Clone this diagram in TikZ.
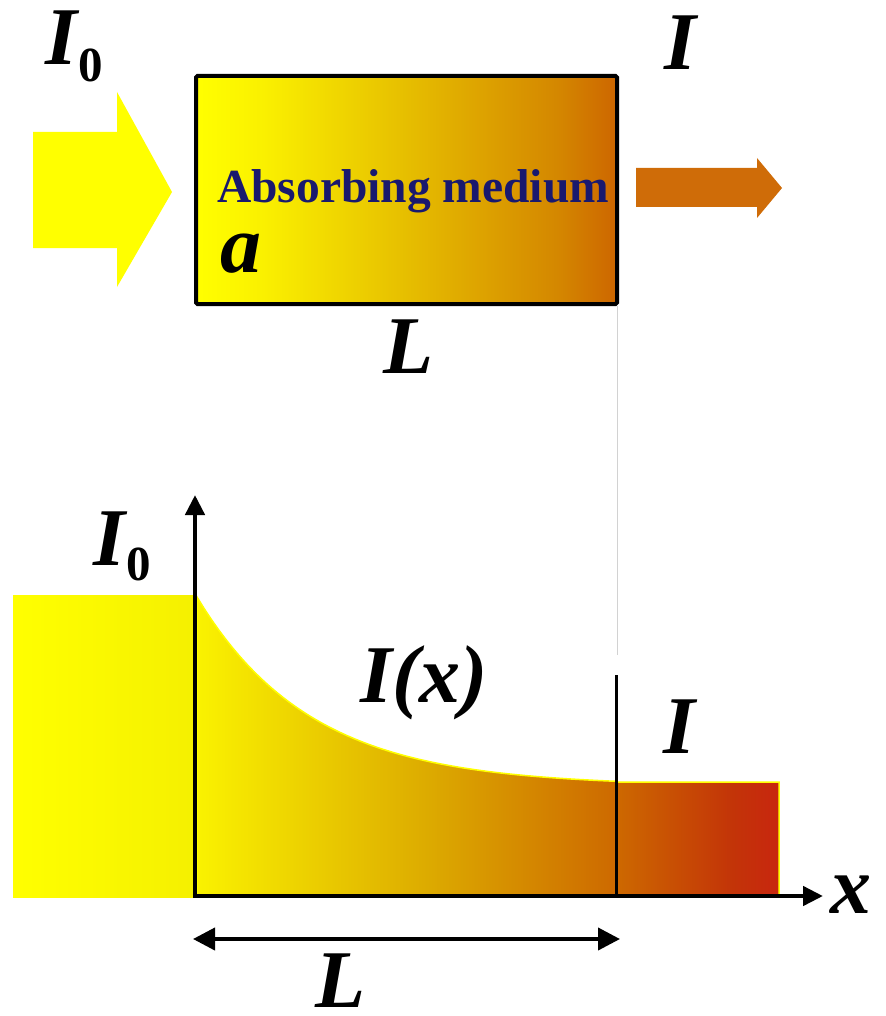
\documentclass[tikz,border=0pt]{standalone}
\usepackage{fontspec}
\setmainfont{Liberation Serif}
\usetikzlibrary{arrows.meta}
\definecolor{cyel}{RGB}{255,255,0}
\definecolor{cyel2}{RGB}{245,240,0}
\definecolor{bmid1}{RGB}{250,240,0}
\definecolor{bmid2}{RGB}{230,190,0}
\definecolor{bmid3}{RGB}{212,135,0}
\definecolor{borg}{RGB}{205,102,0}
\definecolor{gy}{RGB}{250,242,0}
\definecolor{gm}{RGB}{220,170,0}
\definecolor{go}{RGB}{205,105,0}
\definecolor{gr}{RGB}{195,52,8}
\definecolor{gr2}{RGB}{200,38,15}
\definecolor{arrorg}{RGB}{207,108,8}
\definecolor{navy}{RGB}{25,25,110}
\pgfdeclarehorizontalshading{boxshade}{100bp}{color(0bp)=(cyel); color(25bp)=(cyel); color(33bp)=(bmid1); color(50bp)=(bmid2); color(68bp)=(bmid3); color(75bp)=(borg); color(100bp)=(borg)}
\pgfdeclarehorizontalshading{graphshade}{100bp}{color(0bp)=(gy); color(25bp)=(gy); color(45bp)=(gm); color(61bp)=(go); color(71bp)=(gr); color(75bp)=(gr2); color(100bp)=(gr2)}
\pgfdeclarehorizontalshading{leftshade}{100bp}{color(0bp)=(cyel); color(25bp)=(cyel); color(75bp)=(cyel2); color(100bp)=(cyel2)}
\begin{document}
\begin{tikzpicture}[x=1pt,y=-1pt,
  lbl/.style={inner sep=0pt, font=\fontsize{82}{90}\selectfont\bfseries\itshape},
  axisline/.style={line width=4.5pt, -{Triangle[length=20pt,width=19pt]}},
  dimline/.style={line width=4pt, {Triangle[length=22pt,width=22pt]}-{Triangle[length=22pt,width=22pt]}}]
\clip (0,0) rectangle (885,1016);
\useasboundingbox (0,0) rectangle (885,1016);
% top part
\fill[cyel] (33,132) -- (117,132) -- (117,92) -- (172,192) -- (117,287) -- (117,248) -- (33,248) -- cycle;
\node[draw=black, line width=4pt, shading=boxshade, minimum width=421pt, minimum height=228pt,
  inner sep=0pt, anchor=north west, rounded corners=1.5pt] (box) at (194,74) {};
\fill[arrorg] (636,168) -- (757,168) -- (757,158) -- (782,188) -- (757,218) -- (757,207) -- (636,207) -- cycle;
\node[inner sep=0pt, anchor=base west, text=navy, font=\fontsize{47.5}{50}\selectfont\bfseries] (abs) at (217,203) {Absorbing medium};
\node[lbl, anchor=base west] (a) at (220,272) {a};
\node[lbl, anchor=base west] (I0top) at (45,65) {I\kern1pt\raisebox{-17pt}{\fontsize{49}{49}\selectfont\bfseries\upshape 0}};
\node[lbl, anchor=base west] (Itop) at (664,70) {I};
\node[lbl, anchor=base west] (Lbox) at (383,373) {L};
% graph
\coordinate (O) at (195,896);
\coordinate (ytip) at (195,495);
\coordinate (xtip) at (823,896);
\coordinate (gtop) at (617,655);
\coordinate (mtop) at (616,675);
\coordinate (mbot) at (616,896);
\coordinate (La) at (193,939);
\coordinate (Lb) at (620,939);
\fill[shading=leftshade] (13,595) rectangle (196,897);
\filldraw[shading=graphshade, draw=cyel, line width=1.5pt]
  plot[domain=197:616, samples=60, smooth] (\x, {896 - (110 + 189*exp(-3.7*(\x-197)/420))})
  -- (616,782) -- (779,782) -- (779,896) -- (197,896) -- cycle;
\draw[gray!35, line width=1pt] (gtop |- box.south) -- (gtop);
\draw[line width=3pt] (mtop) -- (mbot);
\draw[axisline] (O) -- (ytip);
\draw[axisline] ([xshift=-2.25pt]O) -- (xtip);
\draw[dimline] (La) -- (Lb);
\node[lbl, anchor=base west] (I0g) at (93,565) {I\kern1pt\raisebox{-15pt}{\fontsize{49}{49}\selectfont\bfseries\upshape 0}};
\node[lbl, anchor=base west] (Ix) at (360,702) {I(x)};
\node[lbl, anchor=base west] (Ig) at (663,753) {I};
\node[lbl, anchor=base west] (xl) at (830,913) {x};
\node[lbl, anchor=base west] (Lg) at (315,1007) {L};
\end{tikzpicture}
\end{document}
